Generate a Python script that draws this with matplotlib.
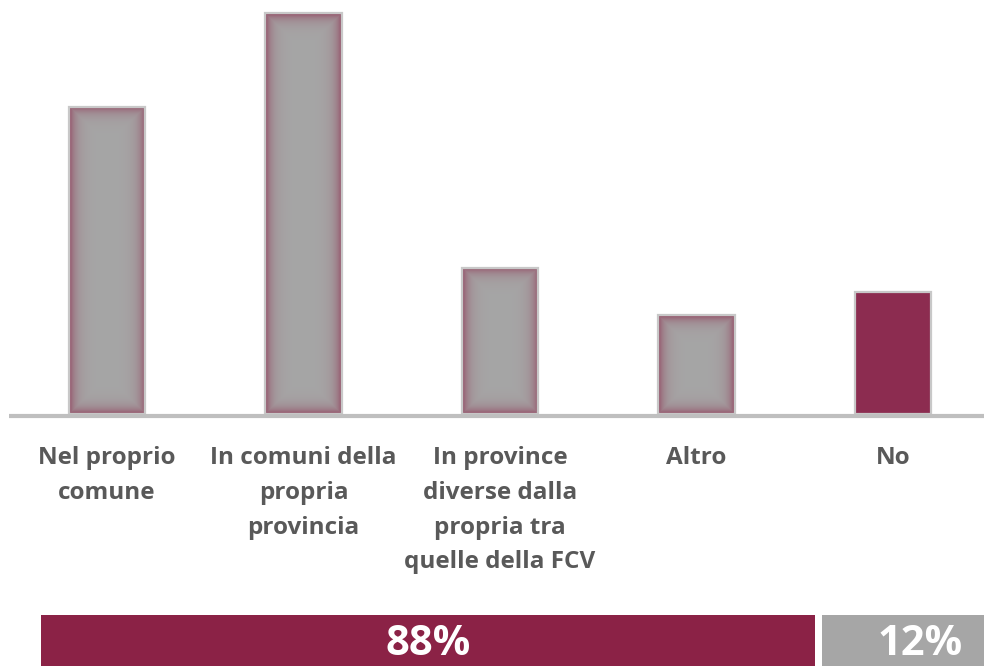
import numpy as np
import matplotlib
matplotlib.use("Agg")
import matplotlib.pyplot as plt
from matplotlib.patches import Rectangle
from matplotlib.colors import to_rgb

# ---- data ----
categories = ["Nel proprio\ncomune",
              "In comuni della\npropria\nprovincia",
              "In province\ndiverse dalla\npropria tra\nquelle della FCV",
              "Altro",
              "No"]
values = [30.2, 39.4, 14.4, 9.7, 12.0]
highlight = [False, False, False, False, True]
share_labels = ["88%", "12%"]
share_values = [88, 12]

# ---- style ----
GRAY = "#A6A6A6"
MAROON = "#8B2246"
BAR5 = "#8C2C50"
GLOW = "#8B2246"
EDGE = "#C8C8C8"
TEXT = "#595959"
plt.rcParams['font.family'] = ['Open Sans', 'DejaVu Sans']

W_PX, H_PX = 984, 666
fig = plt.figure(figsize=(W_PX / 100, H_PX / 100), dpi=100)

# main axes: baseline at pixel 414 from top, axes reaches top
base_px = 414
ax = fig.add_axes([0, 1 - base_px / H_PX, 1, base_px / H_PX])
px_per_y = 10.17
spacing = 196.5
x0_px = 107
xlim = (-x0_px / spacing, (W_PX - x0_px) / spacing)
ylim = (0, base_px / px_per_y)
bar_w = 0.387

base_rgb = np.array(to_rgb(GRAY))
glow_rgb = np.array(to_rgb(GLOW))

for i, (v, hl) in enumerate(zip(values, highlight)):
    if hl:
        ax.bar(i, v, width=bar_w, color=BAR5, edgecolor=EDGE, linewidth=1.6, zorder=2)
    else:
        Wp = int(round(bar_w * spacing))
        Hp = int(round(v * px_per_y))
        yy, xx = np.mgrid[0:Hp, 0:Wp] + 0.5
        d = np.minimum.reduce([xx, Wp - xx, yy, Hp - yy])
        f = 0.68 * np.exp(-d / 6.0)
        img = base_rgb[None, None, :] * (1 - f[..., None]) + glow_rgb[None, None, :] * f[..., None]
        ax.imshow(img, extent=(i - bar_w / 2, i + bar_w / 2, 0, v), aspect='auto',
                  interpolation='bilinear', zorder=2, origin='lower')
        ax.add_patch(Rectangle((i - bar_w / 2, 0), bar_w, v, fill=False,
                               edgecolor=EDGE, linewidth=1.6, zorder=3))
    ax.text(i, -32 / px_per_y, categories[i], ha='center', va='top', fontsize=17.5,
            fontweight='bold', color=TEXT, linespacing=1.6, clip_on=False)

ax.plot([-(x0_px - 9) / spacing, xlim[1]], [-0.2, -0.2], color="#BFBFBF", lw=3,
        solid_capstyle='butt', zorder=4, clip_on=False)
ax.set_xlim(*xlim)
ax.set_ylim(*ylim)
ax.axis('off')

# bottom share bar
top_px = 615
ax2 = fig.add_axes([0, 0, 1, (H_PX - top_px) / H_PX])
px_per_u = 774 / 88
left_px = 41
ax2.set_xlim(-left_px / px_per_u, (W_PX - left_px) / px_per_u)
ax2.set_ylim(0, 1)
gap = 7 / px_per_u
ax2.barh(0.5, share_values[0], left=0, height=1.0, color=MAROON, zorder=2)
gray_left = share_values[0] + gap
gray_width = 196 / px_per_u
ax2.barh(0.5, gray_width, left=gray_left, height=1.0, color=GRAY, zorder=2)
ax2.text(share_values[0] / 2, 0.42, share_labels[0], ha='center', va='center',
         fontsize=30, fontweight='bold', color='white', zorder=3)
ax2.text(gray_left + gray_width / 2, 0.42, share_labels[1], ha='center', va='center',
         fontsize=30, fontweight='bold', color='white', zorder=3)
ax2.axis('off')

fig.savefig("out.png", dpi=100)
